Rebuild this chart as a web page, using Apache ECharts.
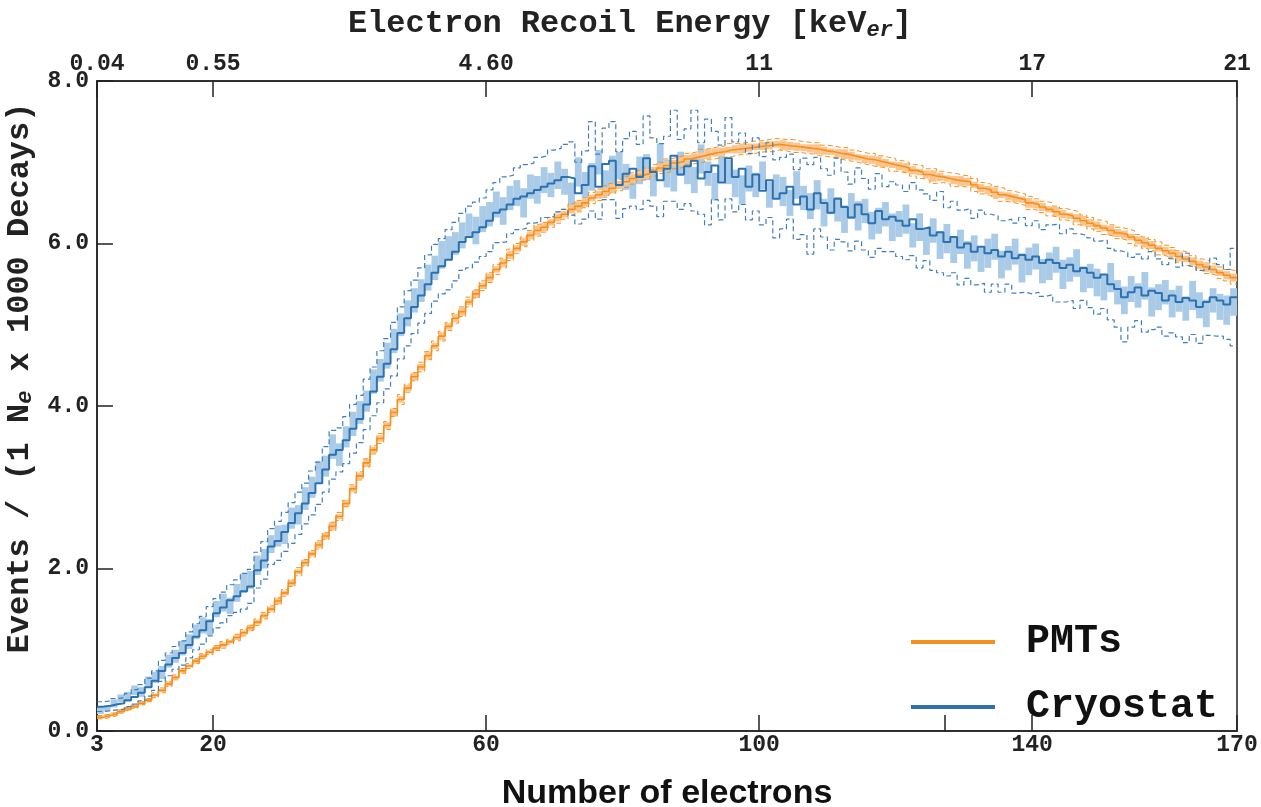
<!DOCTYPE html>
<html>
<head>
<meta charset="utf-8">
<script src="https://cdn.jsdelivr.net/npm/echarts@6/dist/echarts.min.js"></script>
<style>
  html, body { margin: 0; padding: 0; background: #fff; }
  #chart { width: 1261px; height: 807px; }
</style>
</head>
<body>
<div id="chart"></div>
<script>
// Number-of-electrons tick positions and their labels (bottom axis)
const tickElectrons = [3, 20, 60, 100, 140, 170];
const electronLabels = ['3', '20', '60', '100', '140', '170'];
// an extra unlabelled tick mark on the bottom axis
const extraBottomTicks = [127.2];
// Matching electron recoil energies (top axis, keV_er)
const energyLabels = ['0.04', '0.55', '4.60', '11', '17', '21'];

// Histogram binning: one bin per electron, from 3 to 170
const binStart = 3;
const binEnd = 170;

// PMTs: bin contents (events / (1 Ne x 1000 decays))
const pmtMid = [
  0.17,0.19,0.21,0.24,0.27,0.30,0.34,
  0.38,0.44,0.50,0.58,0.66,0.74,0.80,0.86,0.92,0.97,
  1.02,1.06,1.10,1.15,1.21,1.27,1.34,1.42,1.50,1.60,
  1.70,1.82,1.96,2.07,2.18,2.29,2.40,2.52,2.64,2.80,
  2.98,3.14,3.30,3.46,3.60,3.76,3.92,4.08,4.22,4.36,
  4.48,4.62,4.74,4.86,4.98,5.08,5.16,5.28,5.38,5.48,
  5.58,5.68,5.76,5.86,5.94,6.02,6.10,6.16,6.20,6.26,
  6.32,6.36,6.42,6.46,6.50,6.56,6.60,6.64,6.68,6.72,
  6.76,6.80,6.84,6.86,6.90,6.93,6.96,6.99,7.01,7.04,
  7.06,7.08,7.10,7.12,7.13,7.15,7.16,7.17,7.18,7.19,
  7.20,7.21,7.22,7.21,7.20,7.19,7.18,7.17,7.16,7.14,
  7.13,7.11,7.10,7.08,7.06,7.04,7.03,7.01,6.99,6.97,
  6.95,6.93,6.90,6.88,6.85,6.83,6.82,6.80,6.78,6.77,
  6.76,6.72,6.68,6.66,6.63,6.60,6.58,6.56,6.54,6.50,
  6.48,6.45,6.42,6.39,6.36,6.34,6.31,6.28,6.25,6.22,
  6.19,6.16,6.13,6.11,6.08,6.04,6.01,5.98,5.94,5.91,
  5.88,5.84,5.81,5.78,5.74,5.71,5.68,5.64,5.61,5.58
];
// PMTs: systematic variation (dashed envelopes)
const pmtErr = [
  0.02,0.02,0.02,0.02,0.02,0.02,0.02,
  0.02,0.03,0.03,0.03,0.03,0.03,0.03,0.03,0.03,0.03,
  0.03,0.04,0.03,0.04,0.04,0.03,0.04,0.04,0.04,0.04,
  0.04,0.04,0.05,0.04,0.04,0.05,0.04,0.05,0.05,0.04,
  0.05,0.05,0.05,0.05,0.06,0.05,0.05,0.06,0.05,0.05,
  0.06,0.05,0.06,0.06,0.05,0.06,0.06,0.06,0.05,0.06,
  0.06,0.06,0.06,0.07,0.06,0.06,0.06,0.07,0.06,0.06,
  0.07,0.06,0.07,0.07,0.06,0.07,0.07,0.07,0.06,0.07,
  0.07,0.07,0.06,0.07,0.07,0.07,0.08,0.07,0.07,0.07,
  0.07,0.08,0.07,0.07,0.07,0.08,0.07,0.07,0.08,0.07,
  0.07,0.08,0.07,0.07,0.08,0.07,0.07,0.07,0.08,0.07,
  0.07,0.07,0.08,0.07,0.07,0.07,0.08,0.07,0.07,0.08,
  0.07,0.07,0.07,0.08,0.07,0.09,0.07,0.07,0.08,0.07,
  0.07,0.08,0.07,0.07,0.07,0.08,0.07,0.07,0.07,0.08,
  0.07,0.07,0.08,0.07,0.07,0.07,0.08,0.07,0.07,0.07,
  0.08,0.07,0.07,0.07,0.08,0.07,0.07,0.07,0.08,0.07,
  0.07,0.07,0.08,0.07,0.07,0.08,0.07,0.07,0.07,0.08
];
// PMTs: statistical band half-height (shaded boxes)
const pmtStat = [
  0.02,0.02,0.02,0.02,0.02,0.02,0.02,
  0.02,0.02,0.02,0.03,0.02,0.03,0.02,0.03,0.03,0.02,
  0.03,0.03,0.02,0.03,0.03,0.04,0.03,0.03,0.03,0.04,
  0.03,0.04,0.03,0.04,0.03,0.04,0.04,0.05,0.03,0.04,
  0.04,0.04,0.05,0.04,0.04,0.04,0.05,0.04,0.04,0.05,
  0.04,0.05,0.04,0.05,0.04,0.05,0.05,0.04,0.05,0.04,
  0.05,0.04,0.05,0.05,0.04,0.05,0.05,0.06,0.05,0.04,
  0.05,0.04,0.05,0.06,0.05,0.04,0.05,0.05,0.06,0.05,
  0.04,0.05,0.05,0.06,0.04,0.05,0.05,0.04,0.06,0.05,
  0.05,0.04,0.06,0.05,0.05,0.04,0.05,0.06,0.05,0.04,
  0.05,0.05,0.04,0.06,0.05,0.05,0.04,0.05,0.06,0.05,
  0.04,0.05,0.06,0.05,0.04,0.05,0.05,0.06,0.05,0.04,
  0.05,0.06,0.05,0.04,0.05,0.07,0.05,0.04,0.05,0.06,
  0.05,0.04,0.05,0.05,0.06,0.04,0.05,0.05,0.04,0.06,
  0.05,0.05,0.04,0.06,0.05,0.04,0.05,0.06,0.05,0.05,
  0.04,0.06,0.05,0.05,0.04,0.05,0.06,0.05,0.04,0.05,
  0.05,0.06,0.04,0.05,0.05,0.06,0.05,0.04,0.05,0.05
];

// Cryostat: bin contents
const cryoMid = [
  0.30,0.31,0.33,0.34,0.38,0.42,0.47,
  0.54,0.62,0.74,0.82,0.90,0.96,1.06,1.16,1.24,1.35,
  1.45,1.52,1.61,1.66,1.72,1.78,1.98,2.10,2.27,2.34,
  2.45,2.56,2.68,2.80,2.93,3.05,3.22,3.40,3.46,3.58,
  3.72,3.84,4.02,4.18,4.36,4.52,4.70,4.90,5.08,5.22,
  5.36,5.50,5.64,5.72,5.80,5.90,6.02,6.08,6.14,6.20,
  6.28,6.38,6.42,6.48,6.55,6.58,6.62,6.66,6.70,6.74,
  6.78,6.82,6.80,6.62,6.72,6.95,6.70,6.98,7.02,6.72,
  6.86,6.92,6.82,7.05,6.88,6.78,6.92,7.08,6.85,6.95,
  7.02,6.80,6.88,6.96,6.75,7.05,6.82,6.92,6.70,6.85,
  6.65,6.78,6.55,6.62,6.70,6.48,6.58,6.42,6.62,6.50,
  6.38,6.55,6.45,6.32,6.48,6.36,6.25,6.40,6.30,6.33,
  6.28,6.22,6.30,6.18,6.20,6.10,6.14,6.02,6.08,5.95,
  6.00,5.90,5.96,5.88,5.92,5.84,5.90,5.82,5.86,5.80,
  5.84,5.76,5.80,5.76,5.70,5.74,5.66,5.70,5.64,5.58,
  5.62,5.50,5.44,5.34,5.40,5.46,5.36,5.42,5.39,5.30,
  5.36,5.28,5.33,5.30,5.22,5.28,5.34,5.30,5.25,5.34
];
// Cryostat: systematic variation (dashed envelopes)
const cryoErr = [
  0.06,0.06,0.07,0.07,0.08,0.09,0.10,
  0.11,0.12,0.13,0.14,0.14,0.15,0.16,0.16,0.17,0.18,
  0.18,0.19,0.19,0.20,0.22,0.21,0.22,0.23,0.22,0.24,
  0.24,0.25,0.26,0.25,0.27,0.26,0.28,0.30,0.27,0.29,
  0.30,0.29,0.31,0.30,0.32,0.31,0.33,0.32,0.34,0.33,
  0.34,0.36,0.35,0.34,0.37,0.36,0.35,0.38,0.37,0.36,
  0.38,0.37,0.40,0.36,0.38,0.39,0.37,0.40,0.38,0.41,
  0.39,0.40,0.45,0.38,0.42,0.55,0.40,0.44,0.48,0.41,
  0.43,0.46,0.40,0.52,0.42,0.45,0.40,0.56,0.43,0.46,
  0.62,0.44,0.65,0.42,0.46,0.50,0.43,0.44,0.41,0.45,
  0.42,0.46,0.48,0.44,0.40,0.43,0.47,0.55,0.44,0.42,
  0.46,0.50,0.43,0.41,0.45,0.44,0.42,0.46,0.40,0.43,
  0.44,0.42,0.45,0.48,0.41,0.43,0.50,0.42,0.44,0.46,
  0.43,0.41,0.45,0.48,0.42,0.44,0.40,0.43,0.46,0.42,
  0.44,0.41,0.43,0.48,0.42,0.44,0.46,0.40,0.43,0.45,
  0.42,0.44,0.47,0.55,0.43,0.41,0.45,0.48,0.42,0.44,
  0.46,0.43,0.55,0.42,0.45,0.41,0.48,0.44,0.43,0.60
];
// Cryostat: shaded box centres and half-heights
const cryoFill = [
  0.25,0.28,0.34,0.40,0.42,0.50,0.48,
  0.60,0.66,0.72,0.86,0.92,1.02,1.10,1.22,1.30,1.28,
  1.50,1.58,1.54,1.70,1.82,1.86,2.04,2.12,2.30,2.40,
  2.42,2.62,2.66,2.86,3.00,3.18,3.26,3.50,3.40,3.62,
  3.78,3.92,4.06,4.30,4.44,4.62,4.80,5.00,5.14,5.30,
  5.42,5.58,5.70,5.86,5.94,6.00,6.10,6.22,6.16,6.30,
  6.36,6.48,6.40,6.56,6.62,6.50,6.70,6.66,6.78,6.72,
  6.84,6.76,6.60,6.88,6.72,6.82,7.00,6.74,6.90,6.96,
  6.82,6.70,6.90,6.94,6.76,7.08,6.86,6.80,6.98,6.90,
  6.78,7.04,6.86,6.70,6.92,6.88,6.74,6.66,6.80,6.72,
  6.84,6.60,6.70,6.64,6.50,6.72,6.56,6.46,6.60,6.38,
  6.52,6.42,6.30,6.46,6.34,6.40,6.22,6.28,6.36,6.20,
  6.24,6.30,6.10,6.20,6.02,6.16,5.98,6.06,5.92,6.02,
  5.86,5.94,5.80,5.88,5.96,5.74,5.82,5.90,5.70,5.78,
  5.84,5.66,5.72,5.80,5.62,5.68,5.76,5.56,5.60,5.52,
  5.46,5.58,5.40,5.30,5.44,5.36,5.48,5.28,5.34,5.40,
  5.26,5.32,5.20,5.36,5.24,5.14,5.30,5.22,5.18,5.28
];
const cryoStat = [
  0.04,0.04,0.05,0.05,0.06,0.06,0.06,
  0.07,0.07,0.08,0.08,0.08,0.09,0.09,0.09,0.10,0.10,
  0.10,0.11,0.10,0.11,0.12,0.11,0.12,0.12,0.11,0.13,
  0.12,0.13,0.12,0.14,0.13,0.14,0.13,0.15,0.14,0.13,
  0.15,0.14,0.13,0.15,0.14,0.16,0.15,0.14,0.16,0.15,
  0.14,0.16,0.15,0.17,0.15,0.14,0.16,0.15,0.17,0.16,
  0.15,0.16,0.17,0.15,0.16,0.18,0.15,0.17,0.16,0.15,
  0.17,0.16,0.15,0.18,0.16,0.17,0.15,0.16,0.18,0.17,
  0.16,0.15,0.17,0.16,0.18,0.15,0.17,0.16,0.15,0.17,
  0.16,0.18,0.15,0.17,0.16,0.15,0.17,0.18,0.16,0.15,
  0.17,0.16,0.15,0.18,0.16,0.17,0.15,0.16,0.18,0.17,
  0.16,0.15,0.17,0.16,0.18,0.15,0.17,0.16,0.15,0.17,
  0.16,0.18,0.15,0.17,0.16,0.15,0.17,0.18,0.16,0.15,
  0.17,0.16,0.15,0.18,0.16,0.17,0.15,0.16,0.18,0.17,
  0.16,0.15,0.17,0.16,0.18,0.15,0.17,0.16,0.15,0.17,
  0.16,0.18,0.15,0.17,0.16,0.15,0.17,0.18,0.16,0.15,
  0.17,0.16,0.15,0.18,0.16,0.17,0.15,0.16,0.18,0.17
];

// ---- helpers that turn bin arrays into plottable data ----
const binLow = pmtMid.map((_, i) => binStart + i);

// step-line points: left edge of every bin plus the closing right edge
function stepPoints(values) {
  const pts = values.map((v, i) => [binLow[i], v]);
  pts.push([binEnd, values[values.length - 1]]);
  return pts;
}
function shifted(values, deltas, sign) {
  return values.map((v, i) => +(v + sign * deltas[i]).toFixed(3));
}
function boxData(centres, halfs) {
  return centres.map((c, i) => [binLow[i], c - halfs[i], c + halfs[i]]);
}
function boxRenderer(fill) {
  return function (params, api) {
    const lo = api.value(0);
    const hi = lo + 1;
    const a = api.coord([lo, api.value(2)]);
    const b = api.coord([hi, api.value(1)]);
    return {
      type: 'rect',
      shape: { x: a[0], y: a[1], width: b[0] - a[0], height: b[1] - a[1] },
      style: { fill: fill }
    };
  };
}

const ORANGE = '#f5901f';
const ORANGE_LIGHT = '#fbc48c';
const BLUE = '#2c72b0';
const BLUE_DASH = '#3f80bc';
const BLUE_LIGHT = '#a9cbe7';

const MONO = '"Liberation Mono", "DejaVu Sans Mono", monospace';

const chart = echarts.init(document.getElementById('chart'), null, { renderer: 'canvas' });

function stepLine(name, values, color, width, dashed, z) {
  return {
    name: name,
    type: 'line',
    step: 'end',
    data: stepPoints(values),
    symbol: 'none',
    silent: true,
    z: z,
    lineStyle: { color: color, width: width, type: dashed ? [5, 3] : 'solid' },
    itemStyle: { color: color }
  };
}

const option = {
  animation: false,
  backgroundColor: '#ffffff',
  grid: {
    left: 97, right: 24, top: 81, bottom: 76,
    containLabel: false,
    outerBoundsMode: 'none',
    show: true, borderColor: '#222', borderWidth: 1.5,
    backgroundColor: 'transparent'
  },
  legend: {
    data: ['PMTs', 'Cryostat'],
    orient: 'vertical',
    left: 906,
    top: 617,
    itemWidth: 84,
    itemHeight: 4,
    itemGap: 25,
    icon: 'rect',
    textStyle: {
      fontFamily: MONO, fontWeight: 'bold', fontSize: 40, color: '#111',
      padding: [0, 0, 0, 26]
    }
  },
  xAxis: [
    {
      type: 'value',
      position: 'bottom',
      min: binStart, max: binEnd,
      name: 'Number of electrons',
      nameLocation: 'middle',
      nameGap: 46,
      nameTextStyle: {
        fontFamily: '"Liberation Sans", Arial, sans-serif',
        fontWeight: 'bold', fontSize: 34, color: '#111'
      },
      axisLine: { show: true, lineStyle: { color: '#222', width: 1.5 } },
      axisTick: {
        show: true, inside: true, length: 16,
        customValues: tickElectrons.concat(extraBottomTicks),
        lineStyle: { color: '#222', width: 1.5 }
      },
      axisLabel: {
        customValues: tickElectrons,
        formatter: (v) => electronLabels[tickElectrons.indexOf(v)],
        fontFamily: MONO, fontWeight: 'bold', fontSize: 23, color: '#222',
        margin: 3
      },
      splitLine: { show: false }
    },
    {
      type: 'value',
      position: 'top',
      min: binStart, max: binEnd,
      name: '{a|Electron Recoil Energy [keV}{s|er}{a|]}',
      nameLocation: 'middle',
      nameGap: 40,
      nameTextStyle: {
        padding: [0, 74, 0, 0],
        rich: {
          a: { fontFamily: MONO, fontWeight: 'bold', fontSize: 32, color: '#222' },
          s: { fontFamily: MONO, fontWeight: 'bold', fontStyle: 'italic', fontSize: 22, color: '#222', padding: [12, 0, 0, 0] }
        }
      },
      axisLine: { show: true, lineStyle: { color: '#222', width: 1.5 } },
      axisTick: {
        show: true, inside: true, length: 16,
        customValues: tickElectrons,
        lineStyle: { color: '#222', width: 1.5 }
      },
      axisLabel: {
        customValues: tickElectrons,
        formatter: (v) => energyLabels[tickElectrons.indexOf(v)],
        fontFamily: MONO, fontWeight: 'bold', fontSize: 23, color: '#222',
        margin: 5
      },
      splitLine: { show: false }
    }
  ],
  yAxis: {
    type: 'value',
    min: 0, max: 8, interval: 2,
    name: '{a|Events / (1 N}{s|e}{a| x 1000 Decays)}',
    nameLocation: 'middle',
    nameGap: 52,
    nameTextStyle: {
      padding: [0, 0, 0, 56],
      rich: {
        a: { fontFamily: MONO, fontWeight: 'bold', fontSize: 32, color: '#222' },
        s: { fontFamily: MONO, fontWeight: 'bold', fontStyle: 'italic', fontSize: 22, color: '#222', padding: [12, 0, 0, 0] }
      }
    },
    axisLine: { show: true, lineStyle: { color: '#222', width: 1.5 } },
    axisTick: { show: true, inside: true, length: 16, lineStyle: { color: '#222', width: 1.5 } },
    axisLabel: {
      formatter: (v) => v.toFixed(1),
      fontFamily: MONO, fontWeight: 'bold', fontSize: 23, color: '#222',
      margin: 8
    },
    splitLine: { show: false }
  },
  series: [
    {
      name: 'cryostat-stat', type: 'custom', silent: true, z: 1,
      renderItem: boxRenderer(BLUE_LIGHT),
      encode: { x: 0, y: [1, 2] },
      data: boxData(cryoFill, cryoStat)
    },
    {
      name: 'pmt-stat', type: 'custom', silent: true, z: 2,
      renderItem: boxRenderer(ORANGE_LIGHT),
      encode: { x: 0, y: [1, 2] },
      data: boxData(pmtMid, pmtStat)
    },
    stepLine('pmt-up', shifted(pmtMid, pmtErr, 1), ORANGE, 1, true, 3),
    stepLine('pmt-down', shifted(pmtMid, pmtErr, -1), ORANGE, 1, true, 3),
    stepLine('PMTs', pmtMid, ORANGE, 1.6, false, 4),
    stepLine('cryo-up', shifted(cryoMid, cryoErr, 1), BLUE_DASH, 1.2, true, 5),
    stepLine('cryo-down', shifted(cryoMid, cryoErr, -1), BLUE_DASH, 1.2, true, 5),
    stepLine('Cryostat', cryoMid, BLUE, 2, false, 6)
  ]
};

chart.setOption(option);
</script>
</body>
</html>
